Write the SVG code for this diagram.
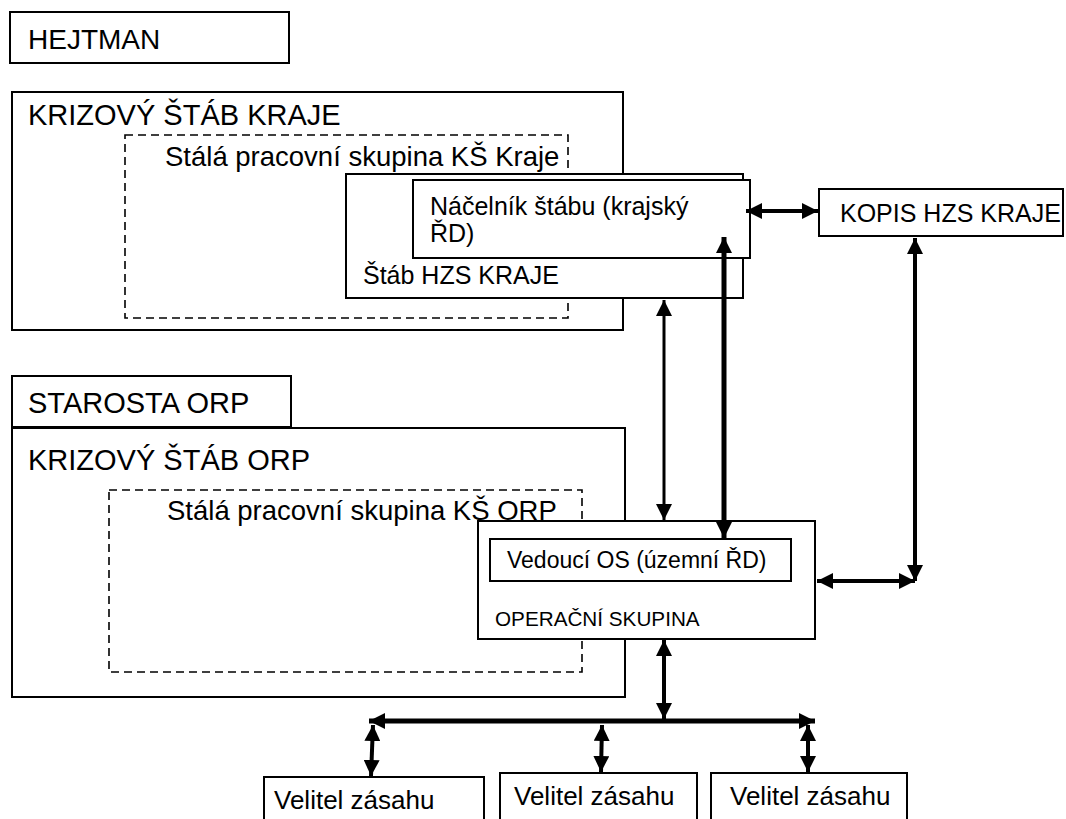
<svg xmlns="http://www.w3.org/2000/svg" width="1066" height="819" viewBox="0 0 1066 819">
<style>
.box{fill:#fff;stroke:#000;stroke-width:2}
.dash{fill:none;stroke:#000;stroke-width:1.6;stroke-dasharray:8 5}
text{font-family:"Liberation Sans",Arial,sans-serif;fill:#000}
.t29{font-size:29px}
.t28{font-size:28px}
.t27{font-size:27.5px}
.t25{font-size:25px}
.t26{font-size:26px}
.t23{font-size:23px}
.t20{font-size:20.7px}
.c{stroke:#000;fill:none}
</style>
<defs>
<marker id="ah" markerUnits="userSpaceOnUse" markerWidth="18" markerHeight="16" refX="16" refY="8" orient="auto-start-reverse" viewBox="0 0 18 16">
<path d="M0,0 L16,8 L0,16 Z" fill="#000"/>
</marker>
</defs>
<rect width="1066" height="819" fill="#fff"/>
<g id="hejtman"><rect class="box" x="10" y="12" width="279" height="51"/><text class="t28" x="28" y="49">HEJTMAN</text></g>
<g id="ks-kraje"><rect class="box" x="12" y="92" width="611" height="238"/><text class="t29" x="28" y="125">KRIZOVÝ ŠTÁB KRAJE</text></g>
<g id="spk-kraje"><rect class="dash" x="125" y="135" width="443" height="183"/><text class="t27" x="165" y="166">Stálá pracovní skupina KŠ Kraje</text></g>
<g id="stab-hzs"><rect class="box" x="346" y="174" width="397" height="124"/><text class="t25" x="363" y="284">Štáb HZS KRAJE</text></g>
<g id="nacelnik"><rect class="box" x="413" y="180" width="337" height="78"/><text class="t25" x="430" y="215">Náčelník štábu (krajský</text><text class="t25" x="430" y="242">ŘD)</text></g>
<g id="kopis"><rect class="box" x="819" y="189" width="244" height="47"/><text class="t25" x="840" y="222">KOPIS HZS KRAJE</text></g>
<g id="starosta"><rect class="box" x="12" y="376" width="279" height="51"/><text class="t29" x="28" y="413">STAROSTA ORP</text></g>
<g id="ks-orp"><rect class="box" x="12" y="428" width="613" height="269"/><text class="t29" x="28" y="470">KRIZOVÝ ŠTÁB ORP</text></g>
<g id="spk-orp"><rect class="dash" x="109" y="490" width="473" height="182"/><text class="t27" x="167" y="520">Stálá pracovní skupina KŠ ORP</text></g>
<g id="operacni"><rect class="box" x="478" y="521" width="337" height="118"/><text class="t20" x="495" y="626">OPERAČNÍ SKUPINA</text></g>
<g id="vedouci"><rect class="box" x="490" y="539" width="301" height="42"/><text class="t23" x="507" y="568">Vedoucí OS (územní ŘD)</text></g>
<g id="velitel1"><rect class="box" x="264" y="777" width="220" height="50"/><text class="t26" x="274" y="809">Velitel zásahu</text></g>
<g id="velitel2"><rect class="box" x="500" y="773" width="197" height="54"/><text class="t26" x="514" y="805">Velitel zásahu</text></g>
<g id="velitel3"><rect class="box" x="711" y="773" width="196" height="54"/><text class="t26" x="730" y="805">Velitel zásahu</text></g>
<g id="connectors">
<line class="c" stroke-width="4" x1="746" y1="211" x2="818" y2="211" marker-start="url(#ah)" marker-end="url(#ah)"/>
<line class="c" stroke-width="3" x1="664" y1="300" x2="664" y2="520" marker-start="url(#ah)" marker-end="url(#ah)"/>
<line class="c" stroke-width="5" x1="724" y1="237" x2="724" y2="538" marker-start="url(#ah)" marker-end="url(#ah)"/>
<line class="c" stroke-width="4" x1="915" y1="238" x2="915" y2="581" marker-start="url(#ah)" marker-end="url(#ah)"/>
<line class="c" stroke-width="4" x1="817" y1="581" x2="915" y2="581" marker-start="url(#ah)" marker-end="url(#ah)"/>
<line class="c" stroke-width="4" x1="664" y1="640" x2="664" y2="719" marker-start="url(#ah)" marker-end="url(#ah)"/>
<line class="c" stroke-width="5" x1="369" y1="721" x2="815" y2="721" marker-start="url(#ah)" marker-end="url(#ah)"/>
<line class="c" stroke-width="4" x1="373" y1="725" x2="371" y2="776" marker-start="url(#ah)" marker-end="url(#ah)"/>
<line class="c" stroke-width="4" x1="602" y1="725" x2="601" y2="772" marker-start="url(#ah)" marker-end="url(#ah)"/>
<line class="c" stroke-width="4" x1="808" y1="725" x2="808" y2="772" marker-start="url(#ah)" marker-end="url(#ah)"/>
</g>
</svg>
